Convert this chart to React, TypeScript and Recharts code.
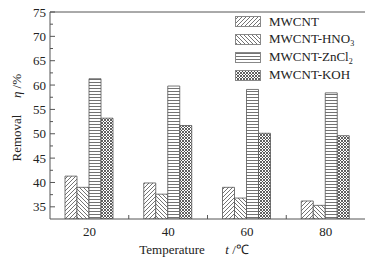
import React from 'react';
import { BarChart, Bar, XAxis, YAxis, ReferenceLine } from 'recharts';

const categories = ['20', '40', '60', '80'];
const mwcnt = [41.3, 39.9, 39.0, 36.2];
const hno3 = [39.0, 37.6, 36.8, 35.3];
const zncl2 = [61.3, 59.8, 59.1, 58.4];
const koh = [53.2, 51.7, 50.1, 49.6];
const seriesKeys = ['mwcnt', 'hno3', 'zncl2', 'koh'];
const seriesNames = ['MWCNT', 'MWCNT-HNO3', 'MWCNT-ZnCl2', 'MWCNT-KOH'];
const seriesPatterns = ['patDiagF', 'patDiagB', 'patHoriz', 'patCross'];
const majorTicks = [35, 40, 45, 50, 55, 60, 65, 70, 75];
const minorTicks = [37.5, 42.5, 47.5, 52.5, 57.5, 62.5, 67.5, 72.5];
const yDomain = [32.5, 75];

const data = categories.map((c, i) => ({
  t: c,
  mwcnt: mwcnt[i],
  hno3: hno3[i],
  zncl2: zncl2[i],
  koh: koh[i],
}));

const FONT = '"Liberation Serif", "Times New Roman", serif';
const TEXT = '#222';
const AXIS = '#555';
const HATCH = '#444';

const allYTicks = [...majorTicks, ...minorTicks].sort((a, b) => a - b);

const YTick = (props: any) => {
  const { x, y, payload } = props;
  const v = payload.value;
  const isMajor = majorTicks.includes(v);
  return (
    <g>
      <line x1={x} x2={x + (isMajor ? 5 : 3)} y1={y} y2={y} stroke={AXIS} strokeWidth={1} />
      {isMajor && (
        <text x={x - 4} y={y} textAnchor="end" dominantBaseline="central" fontFamily={FONT} fontSize={13} fill={TEXT}>
          {v}
        </text>
      )}
    </g>
  );
};

const XTick = (props: any) => {
  const { x, y, payload, index } = props;
  const half = payload.offset || 0;
  return (
    <g>
      <text x={x} y={y + 12} textAnchor="middle" dominantBaseline="central" fontFamily={FONT} fontSize={13} fill={TEXT}>
        {payload.value}
      </text>
      {index < categories.length - 1 && (
        <line x1={x + half} x2={x + half} y1={y} y2={y - 4} stroke={AXIS} strokeWidth={1} />
      )}
    </g>
  );
};

const renderName = (name: string) => {
  const m = name.match(/^(.*?)(\d)$/);
  if (m) {
    return (
      <>
        {m[1]}
        <sub style={{ fontSize: 8, verticalAlign: -3 }}>{m[2]}</sub>
      </>
    );
  }
  return name;
};

export default function App() {
  return (
    <div style={{ position: 'absolute', left: 0, top: 0, width: 385, height: 262, background: '#fff' }}>
      <svg width={0} height={0} style={{ position: 'absolute' }}>
        <defs>
          <pattern id="patDiagF" patternUnits="userSpaceOnUse" width={4} height={4}>
            <rect width={4} height={4} fill="#fff" />
            <path d="M-1,1 l2,-2 M0,4 l4,-4 M3,5 l2,-2" stroke={HATCH} strokeWidth={0.75} />
          </pattern>
          <pattern id="patDiagB" patternUnits="userSpaceOnUse" width={4} height={4}>
            <rect width={4} height={4} fill="#fff" />
            <path d="M-1,3 l2,2 M0,0 l4,4 M3,-1 l2,2" stroke={HATCH} strokeWidth={0.75} />
          </pattern>
          <pattern id="patHoriz" patternUnits="userSpaceOnUse" width={4} height={3}>
            <rect width={4} height={3} fill="#fff" />
            <line x1={0} x2={4} y1={1.5} y2={1.5} stroke={HATCH} strokeWidth={0.75} />
          </pattern>
          <pattern id="patCross" patternUnits="userSpaceOnUse" width={3} height={3}>
            <rect width={3} height={3} fill="#fff" />
            <path d="M0,0 l3,3 M3,0 l-3,3" stroke={HATCH} strokeWidth={0.85} />
          </pattern>
        </defs>
      </svg>
      <BarChart
        width={385}
        height={262}
        data={data}
        margin={{ top: 12, right: 20, left: 0, bottom: 0 }}
        barSize={12}
        barGap={0}
      >
        <XAxis
          dataKey="t"
          height={43}
          stroke={AXIS}
          tickLine={false}
          tickSize={0}
          tickMargin={0}
          tick={<XTick />}
          interval={0}
        />
        <YAxis
          width={50}
          domain={yDomain}
          ticks={allYTicks}
          type="number"
          allowDataOverflow
          stroke={AXIS}
          tickLine={false}
          tickSize={0}
          tickMargin={0}
          tick={<YTick />}
          interval={0}
        />
        <YAxis
          yAxisId="right"
          orientation="right"
          width={0}
          domain={yDomain}
          type="number"
          tick={false}
          tickLine={false}
          stroke={AXIS}
        />
        <ReferenceLine y={75} stroke={AXIS} strokeWidth={1} />
        {seriesKeys.map((k, i) => (
          <Bar
            key={k}
            dataKey={k}
            name={seriesNames[i]}
            fill={`url(#${seriesPatterns[i]})`}
            stroke="#555"
            strokeWidth={0.8}
            isAnimationActive={false}
          />
        ))}
        <text x={16} y={138} transform="rotate(-90 16 138)" textAnchor="middle" dominantBaseline="central" fontFamily={FONT} fontSize={13} fill={TEXT}>
          Removal
        </text>
        <text x={16} y={86} transform="rotate(-90 16 86)" textAnchor="middle" dominantBaseline="central" fontFamily={FONT} fontSize={13} fill={TEXT}>
          <tspan fontStyle="italic">η</tspan> /%
        </text>
        <text x={172} y={249} textAnchor="middle" dominantBaseline="central" fontFamily={FONT} fontSize={13} fill={TEXT}>
          Temperature
        </text>
        <text x={237} y={249} textAnchor="middle" dominantBaseline="central" fontFamily={FONT} fontSize={13} fill={TEXT}>
          <tspan fontStyle="italic">t</tspan> /℃
        </text>
      </BarChart>
      <div style={{ position: 'absolute', left: 235, top: 13, fontFamily: FONT, fontSize: 13, color: TEXT }}>
        {seriesNames.map((n, i) => (
          <div key={n} style={{ display: 'flex', alignItems: 'center', height: 17.8, whiteSpace: 'nowrap' }}>
            <svg width={26} height={11} style={{ marginRight: 8 }}>
              <rect x={0.5} y={0.5} width={25} height={10} fill={`url(#${seriesPatterns[i]})`} stroke="#888" strokeWidth={1} />
            </svg>
            <span>{renderName(n)}</span>
          </div>
        ))}
      </div>
    </div>
  );
}
